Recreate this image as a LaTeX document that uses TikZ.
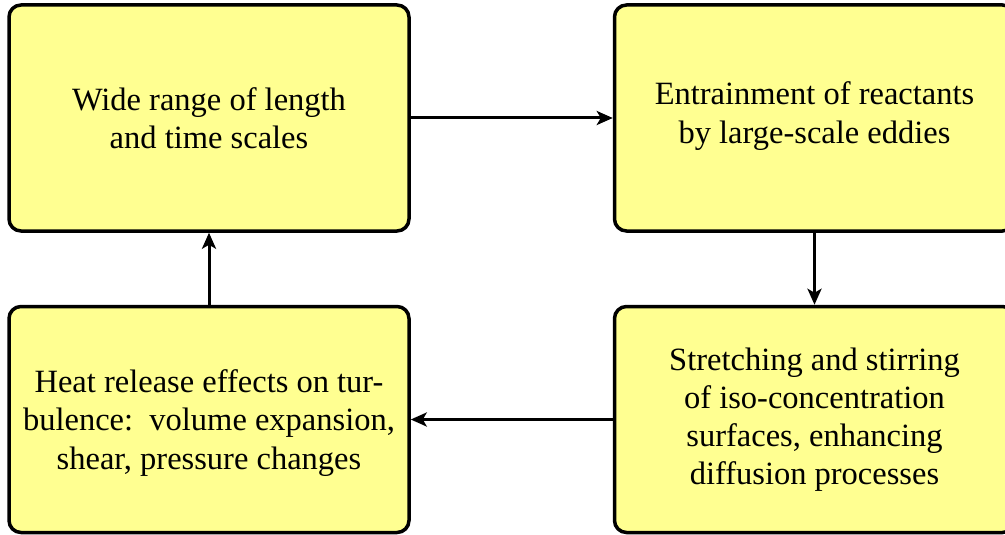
\documentclass[tikz,border=0pt]{standalone}
\usepackage{fontspec}
\setmainfont{Liberation Serif}
\usetikzlibrary{arrows.meta}
\definecolor{boxfill}{RGB}{255,255,145}
\begin{document}
\begin{tikzpicture}[x=1pt,y=1pt,
  stepbox/.style={draw=black, fill=boxfill, line width=3.5pt, rounded corners=12pt,
    minimum width=400pt, minimum height=226pt, inner sep=0pt},
  steptext/.style={align=center, inner sep=0pt, font=\fontsize{32.5}{38.2}\selectfont},
  conn/.style={line width=3pt, -{Stealth[length=16pt,width=14pt,inset=4pt]}}]
\useasboundingbox (0,0) rectangle (1005,-535);
\node[stepbox] (tl) at (209,-118) {};
\node[stepbox] (tr) at (814.5,-118) {};
\node[stepbox] (bl) at (209,-419.5) {};
\node[stepbox] (br) at (814.5,-419.5) {};
\node[steptext] (tltext) at (tl.center) {Wide range of length\\and time scales};
\node[steptext] (trtext) at ([yshift=2pt]tr.center) {Entrainment of reactants\\by large-scale eddies};
\node[steptext] (bltext) at ([yshift=-3.5pt]bl.center) {Heat release effects on tur-\\bulence:\ \ volume expansion,\\shear, pressure changes};
\node[steptext] (brtext) at (br.center) {Stretching and stirring\\of iso-concentration\\surfaces, enhancing\\diffusion processes};
\draw[conn] (tl.east) -- (tr.west);
\draw[conn] (tr.south) -- (br.north);
\draw[conn] (br.west) -- (bl.east);
\draw[conn] (bl.north) -- (tl.south);
\end{tikzpicture}
\end{document}
